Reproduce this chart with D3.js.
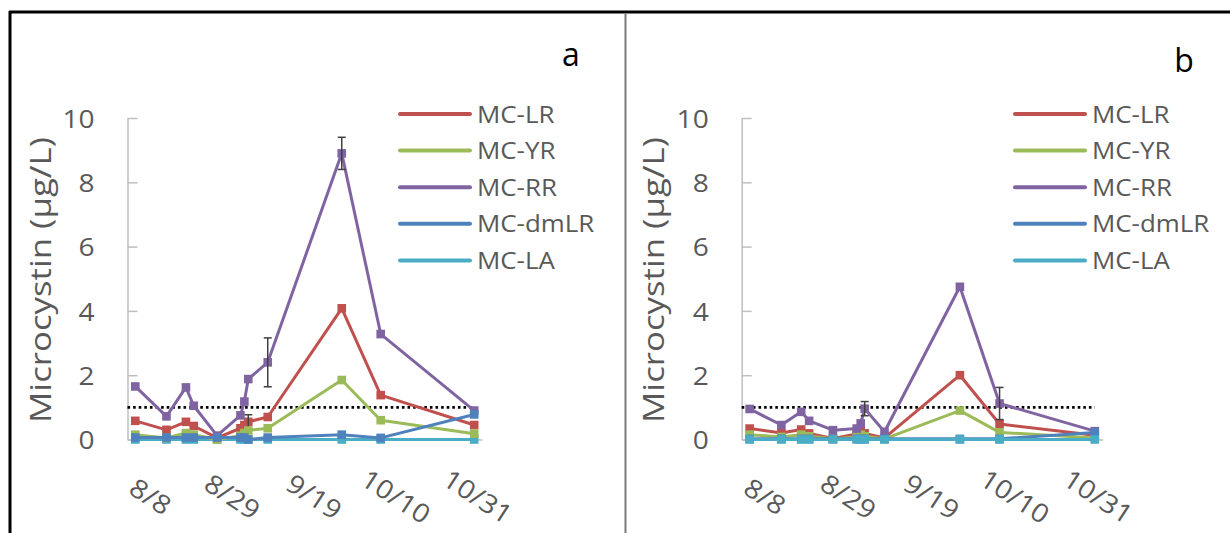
<!DOCTYPE html>
<html>
<head>
<meta charset="utf-8">
<script src="https://cdn.jsdelivr.net/npm/d3@7"></script>
<style>
  body { margin: 0; background: #fff; }
  text { font-family: "Open Sans", sans-serif; }
</style>
</head>
<body>
<svg id="chart" width="1230" height="533"></svg>
<script>
// sampling dates (month/day) and axis settings
var sampleDates = ["8/5", "8/13", "8/18", "8/20", "8/26", "9/1", "9/2", "9/3", "9/8", "9/27", "10/7", "10/31"];
var axisStart = "8/3", axisEnd = "11/2";
var xTickDates = ["8/8", "8/29", "9/19", "10/10", "10/31"];
var yTicks = [0, 2, 4, 6, 8, 10];
var seriesNames = ["MC-LR", "MC-YR", "MC-RR", "MC-dmLR", "MC-LA"];
var seriesColors = ["#C0504D", "#9BBB59", "#8064A2", "#4F81BD", "#4BACC6"];
var guideline = 1;
var yTitle = "Microcystin (µg/L)";

// panel a
var aLR   = [0.58, 0.30, 0.55, 0.42, 0.05, 0.35, 0.45, 0.55, 0.70, 4.08, 1.38, 0.45];
var aYR   = [0.15, 0.05, 0.20, 0.15, 0.00, 0.12, 0.20, 0.28, 0.35, 1.85, 0.60, 0.18];
var aRR   = [1.65, 0.72, 1.62, 1.05, 0.12, 0.75, 1.18, 1.88, 2.40, 8.90, 3.28, 0.90];
var aDmLR = [0.06, 0.06, 0.06, 0.06, 0.06, 0.06, 0.06, 0.00, 0.06, 0.15, 0.05, 0.78];
var aLA   = [0, 0, 0, 0, 0, 0, 0, 0, 0, 0, 0, 0];
var aLRErr = [0, 0, 0, 0, 0, 0, 0, 0.22, 0, 0, 0, 0];
var aRRErr = [0, 0, 0, 0, 0, 0, 0, 0, 0.76, 0.50, 0, 0];

// panel b
var bLR   = [0.34, 0.20, 0.31, 0.19, 0.03, 0.17, 0.27, 0.19, 0.05, 2.00, 0.48, 0.13];
var bYR   = [0.15, 0.08, 0.15, 0.10, 0.02, 0.08, 0.15, 0.10, 0.02, 0.90, 0.22, 0.05];
var bRR   = [0.95, 0.45, 0.86, 0.58, 0.29, 0.34, 0.50, 0.96, 0.24, 4.75, 1.12, 0.26];
var bDmLR = [0.02, 0.02, 0.02, 0.02, 0.02, 0.02, 0.02, 0.02, 0.02, 0.02, 0.02, 0.22];
var bLA   = [0, 0, 0, 0, 0, 0, 0, 0, 0, 0, 0, 0];
var bLRErr = [0, 0, 0, 0, 0, 0, 0, 0, 0, 0, 0, 0];
var bRRErr = [0, 0, 0, 0, 0, 0, 0, 0.22, 0, 0, 0.50, 0];

var textColor = "#595959";
var parseMD = function(s) { var p = s.split("/"); return new Date(2013, +p[0] - 1, +p[1]); };

var panels = [
	{ label: "a", labelPos: [571, 66], x0: 127.5, x1: 482, titleX: 51, legendX: 400,
	  values: [aLR, aYR, aRR, aDmLR, aLA], errors: [aLRErr, null, aRRErr, null, null],
	  order: [4, 0, 1, 2, 3] },
	{ label: "b", labelPos: [1184, 72], x0: 741.7, x1: 1102.7, titleX: 664, legendX: 1015,
	  values: [bLR, bYR, bRR, bDmLR, bLA], errors: [bLRErr, null, bRRErr, null, null],
	  order: [0, 1, 2, 3, 4] }
];

var svg = d3.select("#chart");

// frame
svg.append("line").attr("x1", 9).attr("x2", 1230).attr("y1", 12).attr("y2", 12)
	.attr("stroke", "#000").attr("stroke-width", 3);
svg.append("line").attr("x1", 10).attr("x2", 10).attr("y1", 11).attr("y2", 533)
	.attr("stroke", "#000").attr("stroke-width", 3);
svg.append("line").attr("x1", 625.5).attr("x2", 625.5).attr("y1", 13).attr("y2", 533)
	.attr("stroke", "#7a7a7a").attr("stroke-width", 2);

var yScale = d3.scaleLinear().domain([0, 10]).range([439.5, 118]);
var ms = 8.6; // marker size

panels.forEach(function(p) {
	var g = svg.append("g");
	var xScale = d3.scaleTime().domain([parseMD(axisStart), parseMD(axisEnd)]).range([p.x0, p.x1]);

	// y axis, ticks inside
	var yAxisG = g.append("g").attr("transform", "translate(" + p.x0 + ",0)")
		.call(d3.axisLeft(yScale).tickValues(yTicks).tickSizeInner(-10).tickSizeOuter(0).tickPadding(33));
	yAxisG.select(".domain").attr("stroke", "#BFBFBF").attr("stroke-width", 1.5);
	yAxisG.selectAll(".tick line").attr("stroke", "#BFBFBF").attr("stroke-width", 1.5);
	yAxisG.selectAll(".tick text")
		.attr("x", 0).attr("dy", "0.36em")
		.attr("transform", "translate(-33,0) scale(1.08,1)")
		.attr("fill", textColor).style("font-size", "26px").style("font-family", "Open Sans");

	// x axis
	var xAxisG = g.append("g").attr("transform", "translate(0," + yScale(0) + ")")
		.call(d3.axisBottom(xScale).tickValues(xTickDates.map(parseMD)).tickSize(0)
			.tickFormat(function(d) { return (d.getMonth() + 1) + "/" + d.getDate(); }));
	xAxisG.select(".domain").attr("stroke", "#BFBFBF").attr("stroke-width", 1.5);
	xAxisG.selectAll(".tick text")
		.attr("y", 0).attr("x", 0).attr("dy", "0.36em")
		.attr("text-anchor", "middle")
		.attr("transform", "translate(3,57) rotate(33) scale(1.1,1)")
		.attr("fill", textColor).style("font-size", "26px").style("font-family", "Open Sans");

	// y title
	g.append("text")
		.attr("transform", "translate(" + p.titleX + ",280) rotate(-90) scale(1.16,1)")
		.attr("text-anchor", "middle")
		.attr("fill", textColor).style("font-size", "30px")
		.text(yTitle);

	// guideline 1 µg/L
	var dates = sampleDates.map(parseMD);
	g.append("line")
		.attr("x1", p.x0).attr("x2", xScale(dates[dates.length - 1]))
		.attr("y1", yScale(guideline)).attr("y2", yScale(guideline))
		.attr("stroke", "#000").attr("stroke-width", 2.6).attr("stroke-dasharray", "2.6,3");

	var line = d3.line().x(function(d) { return xScale(d.date); }).y(function(d) { return yScale(d.v); });

	p.order.forEach(function(si) {
		var pts = dates.map(function(d, i) {
			return { date: d, v: p.values[si][i], e: p.errors[si] ? p.errors[si][i] : 0 };
		});
		var sg = g.append("g");
		sg.append("path").datum(pts).attr("d", line)
			.attr("fill", "none").attr("stroke", seriesColors[si]).attr("stroke-width", 3)
			.attr("stroke-linejoin", "round");
		sg.selectAll("rect").data(pts).enter().append("rect")
			.attr("x", function(d) { return xScale(d.date) - ms / 2; })
			.attr("y", function(d) { return yScale(d.v) - ms / 2; })
			.attr("width", ms).attr("height", ms)
			.attr("fill", seriesColors[si]);
		var eb = sg.selectAll("g.err").data(pts.filter(function(d) { return d.e > 0; })).enter()
			.append("g").attr("class", "err");
		eb.append("line")
			.attr("x1", function(d) { return xScale(d.date); }).attr("x2", function(d) { return xScale(d.date); })
			.attr("y1", function(d) { return yScale(d.v + d.e); }).attr("y2", function(d) { return yScale(d.v - d.e); });
		eb.append("line")
			.attr("x1", function(d) { return xScale(d.date) - 4; }).attr("x2", function(d) { return xScale(d.date) + 4; })
			.attr("y1", function(d) { return yScale(d.v + d.e); }).attr("y2", function(d) { return yScale(d.v + d.e); });
		eb.append("line")
			.attr("x1", function(d) { return xScale(d.date) - 4; }).attr("x2", function(d) { return xScale(d.date) + 4; })
			.attr("y1", function(d) { return yScale(d.v - d.e); }).attr("y2", function(d) { return yScale(d.v - d.e); });
		eb.selectAll("line").attr("stroke", "#404040").attr("stroke-width", 1.5);
	});

	// legend
	var leg = g.selectAll("g.leg").data(seriesNames).enter().append("g").attr("class", "leg")
		.attr("transform", function(d, i) { return "translate(" + p.legendX + "," + (114 + i * 36.6) + ")"; });
	leg.append("line").attr("x1", 0).attr("x2", 70).attr("y1", 0).attr("y2", 0)
		.attr("stroke", function(d, i) { return seriesColors[i]; })
		.attr("stroke-width", 4).attr("stroke-linecap", "round");
	leg.append("text")
		.attr("transform", "translate(77,0) scale(1.08,1)")
		.attr("dy", "0.36em")
		.attr("fill", textColor).style("font-size", "24px")
		.text(function(d) { return d; });

	// panel letter
	g.append("text").attr("x", p.labelPos[0]).attr("y", p.labelPos[1])
		.attr("text-anchor", "middle").attr("fill", "#000").style("font-size", "32px")
		.text(p.label);
});
</script>
</body>
</html>
